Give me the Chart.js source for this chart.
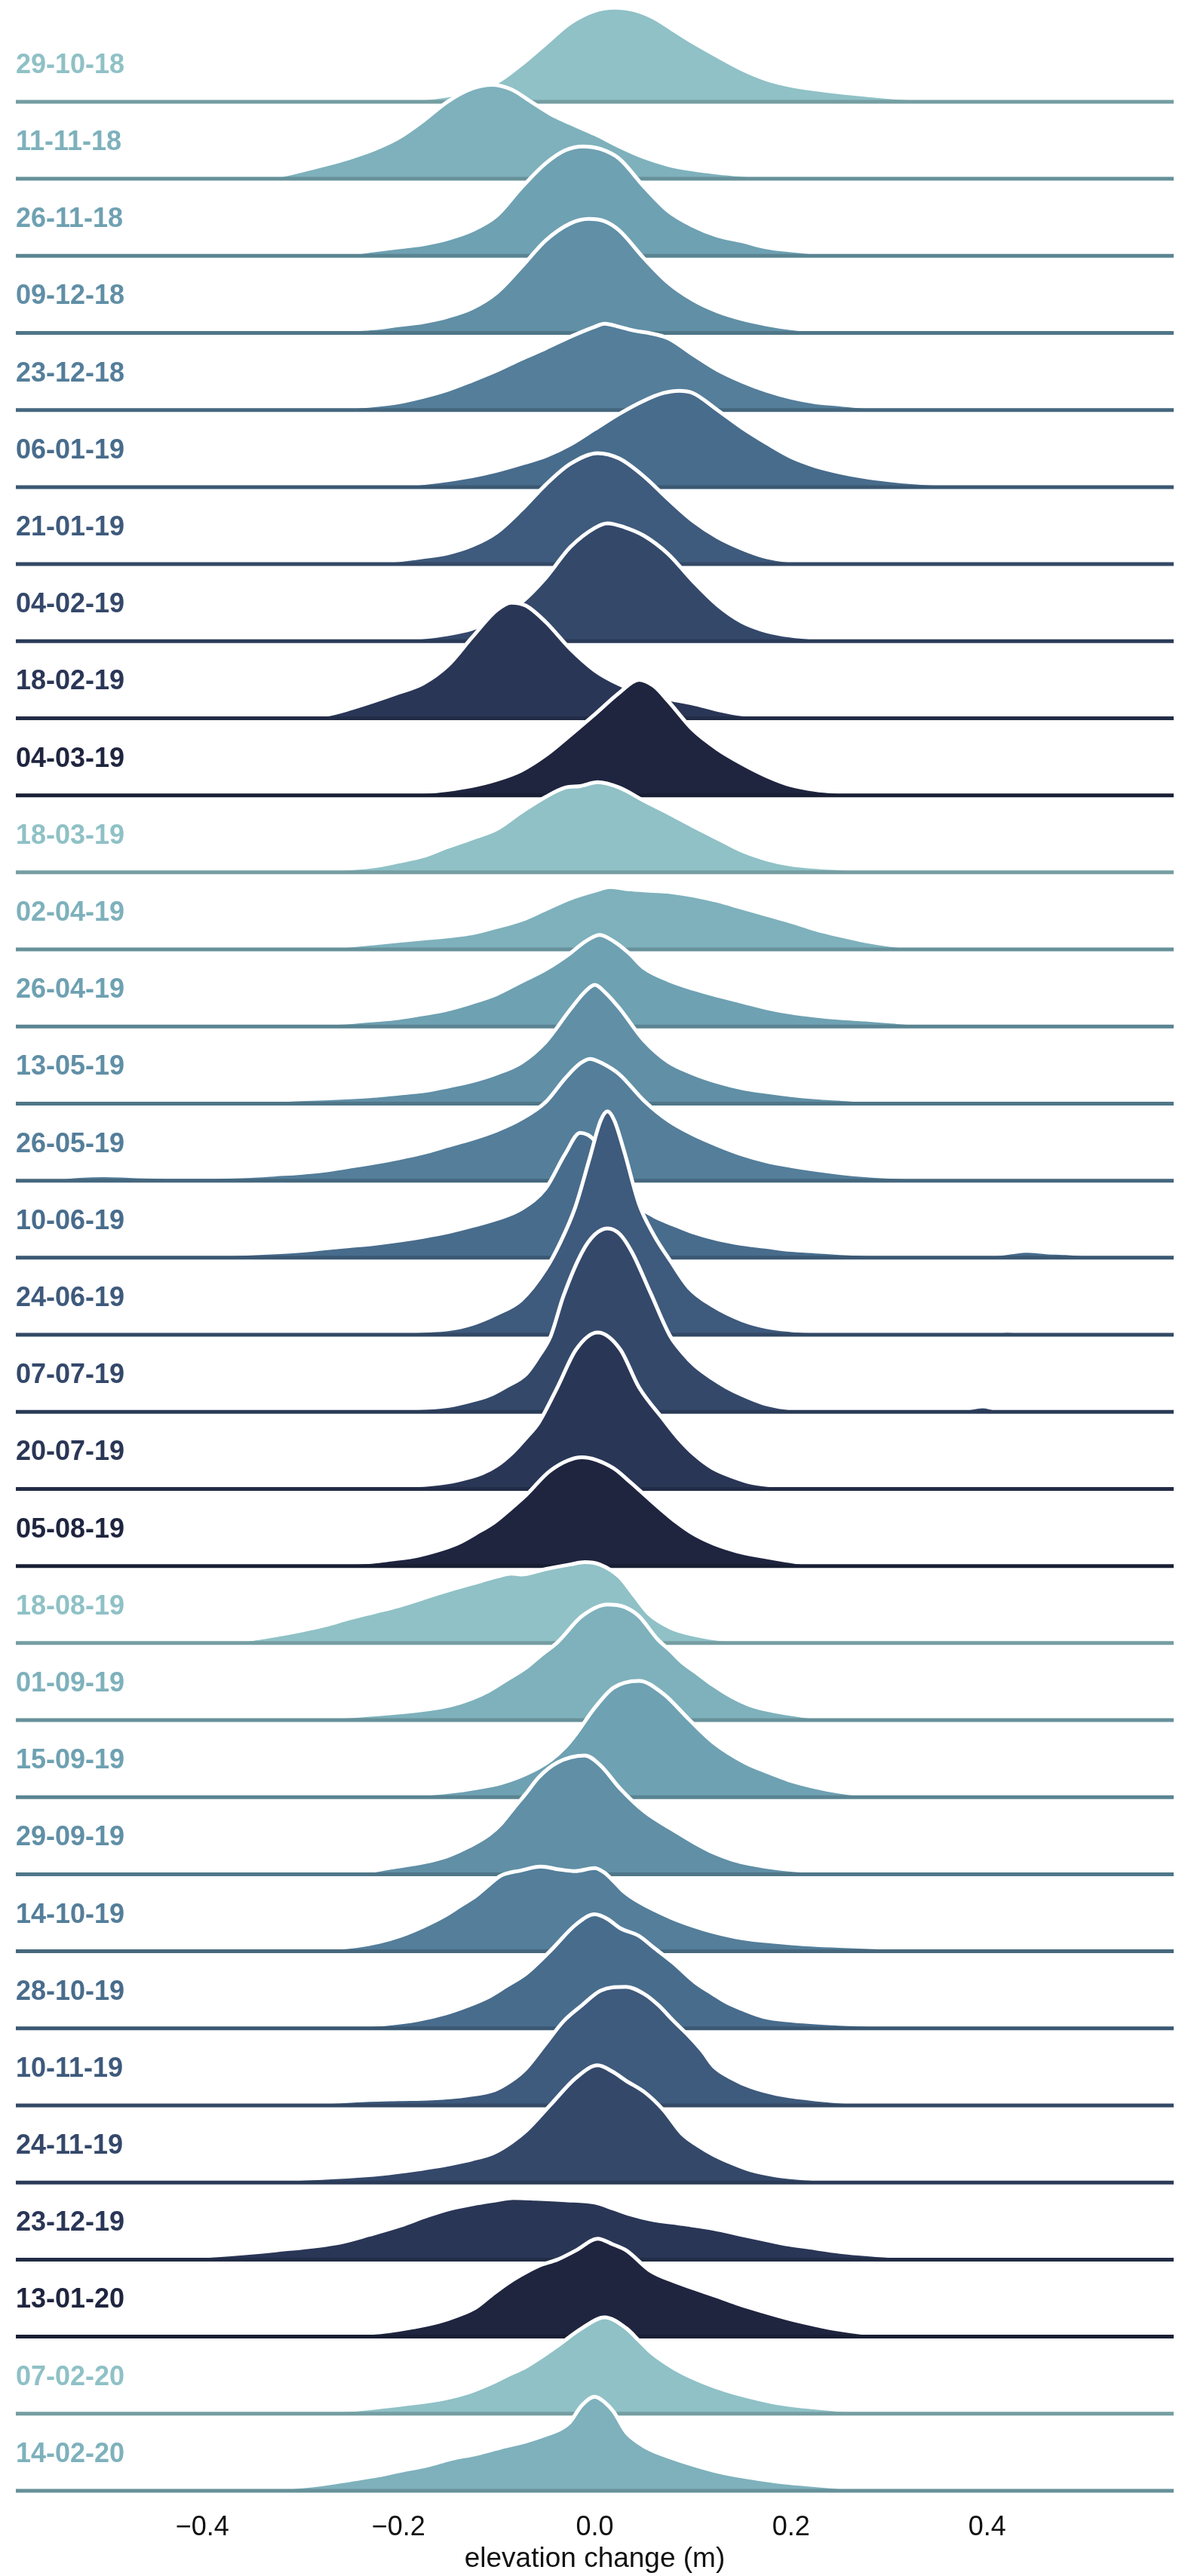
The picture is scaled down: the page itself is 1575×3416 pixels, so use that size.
<!DOCTYPE html>
<html><head><meta charset="utf-8">
<script src="https://cdn.jsdelivr.net/npm/chart.js@4.4.1/dist/chart.umd.min.js"></script>
<style>html,body{margin:0;padding:0;background:#fff;}canvas{display:block;}</style>
</head><body>
<canvas id="c" width="1575" height="3416" style="width:1575px;height:3416px"></canvas>
<script>
// ---------- data ----------
const dateLabels = ["29-10-18","11-11-18","26-11-18","09-12-18","23-12-18","06-01-19","21-01-19","04-02-19","18-02-19","04-03-19",
  "18-03-19","02-04-19","26-04-19","13-05-19","26-05-19","10-06-19","24-06-19","07-07-19","20-07-19","05-08-19",
  "18-08-19","01-09-19","15-09-19","29-09-19","14-10-19","28-10-19","10-11-19","24-11-19","23-12-19","13-01-20",
  "07-02-20","14-02-20"];
const xTicks = [-0.4, -0.2, 0.0, 0.2, 0.4];
const xAxisTitle = "elevation change (m)";
// density per date: [elevation change (m), density height (in ridge-row units)]
const densityRows = [
 [[-0.26,0],[-0.225,0.01],[-0.2,0.02],[-0.175,0.04],[-0.15,0.08],[-0.125,0.14],[-0.1,0.25],[-0.075,0.48],[-0.05,0.75],[-0.025,1.02],[0,1.18],[0.02,1.22],[0.04,1.19],[0.06,1.09],[0.08,0.93],[0.1,0.77],[0.125,0.59],[0.15,0.42],[0.175,0.29],[0.2,0.21],[0.225,0.16],[0.25,0.12],[0.275,0.09],[0.3,0.06],[0.325,0.04],[0.35,0.025],[0.4,0.01],[0.45,0]],
 [[-0.36,0],[-0.325,0.03],[-0.3,0.1],[-0.275,0.18],[-0.25,0.27],[-0.225,0.38],[-0.2,0.53],[-0.175,0.75],[-0.15,1.0],[-0.125,1.17],[-0.105,1.22],[-0.085,1.16],[-0.065,1.0],[-0.045,0.84],[-0.025,0.72],[0,0.58],[0.025,0.42],[0.05,0.28],[0.075,0.18],[0.1,0.12],[0.125,0.08],[0.15,0.05],[0.175,0.025],[0.2,0.01],[0.23,0]],
 [[-0.31,0],[-0.275,0.01],[-0.25,0.03],[-0.225,0.07],[-0.2,0.11],[-0.175,0.15],[-0.15,0.22],[-0.125,0.33],[-0.1,0.52],[-0.075,0.88],[-0.05,1.2],[-0.03,1.37],[-0.012,1.42],[0.005,1.39],[0.025,1.26],[0.05,0.9],[0.075,0.58],[0.1,0.39],[0.125,0.26],[0.15,0.19],[0.175,0.11],[0.2,0.07],[0.225,0.04],[0.25,0.03],[0.275,0.02],[0.3,0.01],[0.34,0]],
 [[-0.33,0],[-0.3,0.01],[-0.275,0.02],[-0.25,0.04],[-0.225,0.06],[-0.2,0.1],[-0.175,0.14],[-0.15,0.21],[-0.125,0.32],[-0.1,0.52],[-0.075,0.85],[-0.05,1.2],[-0.025,1.42],[-0.006,1.48],[0.01,1.45],[0.025,1.33],[0.05,0.97],[0.075,0.65],[0.1,0.43],[0.125,0.28],[0.15,0.18],[0.175,0.11],[0.2,0.06],[0.225,0.03],[0.25,0.01],[0.28,0]],
 [[-0.33,0],[-0.3,0.01],[-0.275,0.02],[-0.25,0.035],[-0.225,0.06],[-0.2,0.1],[-0.175,0.17],[-0.15,0.26],[-0.125,0.38],[-0.1,0.51],[-0.075,0.66],[-0.05,0.8],[-0.025,0.95],[0,1.08],[0.01,1.12],[0.025,1.08],[0.04,1.03],[0.055,1.0],[0.075,0.93],[0.1,0.72],[0.125,0.52],[0.15,0.37],[0.175,0.25],[0.2,0.16],[0.225,0.1],[0.25,0.07],[0.275,0.04],[0.3,0.02],[0.325,0.01],[0.36,0]],
 [[-0.23,0],[-0.2,0.02],[-0.175,0.05],[-0.15,0.09],[-0.125,0.14],[-0.1,0.21],[-0.075,0.3],[-0.05,0.4],[-0.025,0.55],[0,0.75],[0.025,0.95],[0.05,1.12],[0.07,1.22],[0.086,1.25],[0.1,1.22],[0.125,1.0],[0.15,0.77],[0.175,0.57],[0.2,0.39],[0.225,0.27],[0.25,0.19],[0.275,0.13],[0.3,0.09],[0.325,0.06],[0.35,0.04],[0.375,0.02],[0.4,0.01],[0.43,0]],
 [[-0.3,0],[-0.275,0.01],[-0.25,0.02],[-0.225,0.03],[-0.2,0.05],[-0.175,0.09],[-0.15,0.14],[-0.125,0.24],[-0.1,0.41],[-0.075,0.7],[-0.05,1.03],[-0.025,1.3],[0.003,1.44],[0.025,1.37],[0.05,1.14],[0.075,0.84],[0.1,0.56],[0.125,0.35],[0.15,0.2],[0.175,0.09],[0.2,0.04],[0.225,0.02],[0.25,0.01],[0.3,0]],
 [[-0.28,0],[-0.25,0.01],[-0.225,0.02],[-0.2,0.03],[-0.175,0.05],[-0.15,0.09],[-0.125,0.16],[-0.1,0.3],[-0.075,0.5],[-0.05,0.82],[-0.025,1.22],[0,1.47],[0.013,1.53],[0.03,1.48],[0.05,1.37],[0.075,1.13],[0.1,0.78],[0.125,0.47],[0.15,0.25],[0.175,0.13],[0.2,0.07],[0.225,0.04],[0.25,0.02],[0.275,0.01],[0.31,0]],
 [[-0.33,0],[-0.3,0.01],[-0.275,0.04],[-0.25,0.12],[-0.225,0.22],[-0.2,0.33],[-0.175,0.45],[-0.15,0.68],[-0.125,1.05],[-0.1,1.4],[-0.085,1.5],[-0.07,1.46],[-0.05,1.25],[-0.025,0.9],[0,0.62],[0.025,0.44],[0.05,0.32],[0.075,0.25],[0.1,0.19],[0.125,0.11],[0.15,0.05],[0.175,0.03],[0.2,0.015],[0.24,0]],
 [[-0.26,0],[-0.225,0.01],[-0.2,0.025],[-0.175,0.04],[-0.15,0.07],[-0.125,0.12],[-0.1,0.2],[-0.075,0.32],[-0.05,0.52],[-0.025,0.78],[0,1.05],[0.025,1.33],[0.045,1.5],[0.06,1.42],[0.075,1.22],[0.1,0.85],[0.125,0.6],[0.15,0.41],[0.175,0.25],[0.2,0.13],[0.225,0.07],[0.25,0.04],[0.275,0.02],[0.3,0.01],[0.33,0]],
 [[-0.33,0],[-0.3,0.01],[-0.275,0.025],[-0.25,0.05],[-0.225,0.08],[-0.2,0.14],[-0.175,0.21],[-0.15,0.33],[-0.125,0.44],[-0.1,0.56],[-0.075,0.78],[-0.05,0.98],[-0.03,1.1],[-0.015,1.12],[0.003,1.17],[0.025,1.1],[0.05,0.93],[0.075,0.77],[0.1,0.6],[0.125,0.44],[0.15,0.28],[0.175,0.17],[0.2,0.1],[0.225,0.07],[0.25,0.05],[0.275,0.03],[0.3,0.015],[0.325,0.005],[0.35,0]],
 [[-0.32,0],[-0.3,0.005],[-0.275,0.02],[-0.25,0.05],[-0.225,0.08],[-0.2,0.11],[-0.175,0.14],[-0.15,0.17],[-0.125,0.21],[-0.1,0.29],[-0.075,0.38],[-0.05,0.52],[-0.025,0.66],[0,0.76],[0.016,0.81],[0.035,0.78],[0.06,0.76],[0.08,0.74],[0.1,0.7],[0.125,0.63],[0.15,0.54],[0.175,0.45],[0.2,0.36],[0.225,0.26],[0.25,0.18],[0.275,0.11],[0.3,0.06],[0.325,0.03],[0.35,0.015],[0.375,0.005],[0.4,0]],
 [[-0.4,0],[-0.375,0.005],[-0.35,0.01],[-0.325,0.015],[-0.3,0.025],[-0.275,0.04],[-0.25,0.055],[-0.225,0.08],[-0.2,0.11],[-0.175,0.16],[-0.15,0.22],[-0.125,0.31],[-0.1,0.42],[-0.075,0.58],[-0.05,0.74],[-0.025,0.95],[-0.01,1.1],[0.005,1.19],[0.02,1.1],[0.035,0.95],[0.05,0.76],[0.075,0.6],[0.1,0.49],[0.125,0.4],[0.15,0.32],[0.175,0.24],[0.2,0.18],[0.225,0.14],[0.25,0.11],[0.275,0.09],[0.3,0.065],[0.325,0.04],[0.35,0.025],[0.375,0.015],[0.4,0.01],[0.425,0.005],[0.45,0]],
 [[-0.5,0],[-0.475,0.005],[-0.45,0.01],[-0.425,0.015],[-0.4,0.02],[-0.375,0.025],[-0.35,0.03],[-0.325,0.04],[-0.3,0.055],[-0.275,0.065],[-0.25,0.08],[-0.225,0.1],[-0.2,0.13],[-0.175,0.16],[-0.15,0.22],[-0.125,0.29],[-0.1,0.39],[-0.075,0.53],[-0.05,0.8],[-0.025,1.22],[-0.01,1.45],[0,1.54],[0.01,1.45],[0.025,1.24],[0.05,0.82],[0.075,0.54],[0.1,0.39],[0.125,0.28],[0.15,0.2],[0.175,0.15],[0.2,0.11],[0.225,0.08],[0.25,0.06],[0.275,0.04],[0.3,0.03],[0.325,0.02],[0.35,0.015],[0.375,0.01],[0.4,0.005],[0.43,0]],
 [[-0.6,0],[-0.575,0.01],[-0.55,0.03],[-0.525,0.06],[-0.5,0.07],[-0.475,0.06],[-0.45,0.05],[-0.425,0.045],[-0.4,0.045],[-0.375,0.05],[-0.35,0.06],[-0.325,0.08],[-0.3,0.1],[-0.275,0.13],[-0.25,0.18],[-0.225,0.23],[-0.2,0.29],[-0.175,0.36],[-0.15,0.45],[-0.125,0.54],[-0.1,0.65],[-0.075,0.8],[-0.05,1.02],[-0.03,1.33],[-0.015,1.52],[-0.005,1.58],[0.008,1.52],[0.025,1.38],[0.05,1.04],[0.075,0.78],[0.1,0.6],[0.125,0.46],[0.15,0.34],[0.175,0.25],[0.2,0.19],[0.225,0.14],[0.25,0.1],[0.275,0.07],[0.3,0.05],[0.325,0.035],[0.35,0.025],[0.375,0.02],[0.4,0.015],[0.45,0.01],[0.5,0]],
 [[-0.5,0],[-0.475,0.005],[-0.45,0.01],[-0.425,0.02],[-0.4,0.03],[-0.375,0.04],[-0.35,0.055],[-0.325,0.07],[-0.3,0.09],[-0.275,0.12],[-0.25,0.15],[-0.225,0.18],[-0.2,0.22],[-0.175,0.27],[-0.15,0.33],[-0.125,0.41],[-0.1,0.5],[-0.075,0.63],[-0.05,0.9],[-0.03,1.35],[-0.015,1.62],[0,1.52],[0.02,1.1],[0.04,0.72],[0.06,0.54],[0.08,0.43],[0.1,0.33],[0.125,0.24],[0.15,0.18],[0.175,0.14],[0.2,0.1],[0.225,0.08],[0.25,0.06],[0.275,0.045],[0.3,0.035],[0.325,0.025],[0.35,0.02],[0.375,0.02],[0.4,0.03],[0.425,0.07],[0.44,0.09],[0.46,0.07],[0.48,0.06],[0.5,0.04],[0.52,0.01],[0.54,0]],
 [[-0.45,0],[-0.4,0.005],[-0.35,0.01],[-0.3,0.015],[-0.25,0.02],[-0.2,0.035],[-0.175,0.05],[-0.15,0.07],[-0.125,0.14],[-0.1,0.27],[-0.075,0.45],[-0.05,0.85],[-0.035,1.2],[-0.02,1.65],[-0.005,2.3],[0.006,2.78],[0.013,2.9],[0.02,2.78],[0.03,2.38],[0.045,1.7],[0.06,1.3],[0.077,0.96],[0.096,0.61],[0.121,0.37],[0.15,0.19],[0.175,0.1],[0.2,0.06],[0.225,0.04],[0.25,0.025],[0.3,0.015],[0.35,0.01],[0.4,0.01],[0.42,0.05],[0.44,0.03],[0.47,0.035],[0.5,0.01],[0.52,0]],
 [[-0.4,0],[-0.3,0.01],[-0.23,0.02],[-0.19,0.04],[-0.153,0.07],[-0.13,0.13],[-0.108,0.21],[-0.09,0.33],[-0.07,0.49],[-0.057,0.72],[-0.045,0.98],[-0.032,1.5],[-0.013,2.07],[0,2.3],[0.013,2.38],[0.026,2.3],[0.038,2.07],[0.057,1.54],[0.077,0.98],[0.09,0.76],[0.102,0.6],[0.12,0.43],[0.134,0.32],[0.15,0.22],[0.172,0.11],[0.195,0.05],[0.217,0.02],[0.26,0.01],[0.3,0.005],[0.36,0.005],[0.38,0.04],[0.395,0.07],[0.41,0.04],[0.44,0.04],[0.46,0.01],[0.48,0]],
 [[-0.5,0],[-0.35,0.01],[-0.23,0.02],[-0.19,0.04],[-0.166,0.06],[-0.14,0.11],[-0.115,0.2],[-0.1,0.3],[-0.083,0.48],[-0.07,0.66],[-0.057,0.86],[-0.038,1.32],[-0.019,1.81],[0.003,2.03],[0.026,1.81],[0.045,1.32],[0.07,0.9],[0.085,0.66],[0.102,0.44],[0.12,0.27],[0.14,0.16],[0.16,0.08],[0.185,0.04],[0.22,0.02],[0.3,0.01],[0.4,0.008],[0.5,0.005],[0.55,0]],
 [[-0.55,0],[-0.5,0.005],[-0.45,0.008],[-0.39,0.01],[-0.3,0.02],[-0.26,0.03],[-0.23,0.05],[-0.21,0.08],[-0.185,0.12],[-0.16,0.2],[-0.14,0.29],[-0.12,0.43],[-0.102,0.57],[-0.085,0.75],[-0.07,0.92],[-0.045,1.24],[-0.013,1.41],[0.019,1.27],[0.035,1.1],[0.051,0.92],[0.067,0.74],[0.083,0.57],[0.1,0.42],[0.121,0.29],[0.145,0.19],[0.172,0.12],[0.195,0.07],[0.217,0.03],[0.25,0.01],[0.3,0]],
 [[-0.44,0],[-0.4,0.01],[-0.375,0.02],[-0.35,0.05],[-0.325,0.1],[-0.3,0.16],[-0.275,0.23],[-0.25,0.32],[-0.225,0.4],[-0.2,0.48],[-0.175,0.58],[-0.15,0.68],[-0.125,0.77],[-0.1,0.86],[-0.085,0.9],[-0.075,0.89],[-0.05,0.96],[-0.025,1.02],[-0.01,1.05],[0.005,1.02],[0.025,0.86],[0.04,0.62],[0.055,0.38],[0.077,0.2],[0.1,0.11],[0.125,0.055],[0.15,0.03],[0.2,0.01],[0.25,0]],
 [[-0.3,0],[-0.26,0.04],[-0.225,0.07],[-0.198,0.1],[-0.17,0.14],[-0.147,0.19],[-0.125,0.28],[-0.108,0.38],[-0.09,0.52],[-0.07,0.68],[-0.055,0.84],[-0.038,1.01],[-0.013,1.35],[0.013,1.5],[0.03,1.47],[0.045,1.35],[0.064,1.05],[0.077,0.9],[0.089,0.75],[0.105,0.6],[0.121,0.45],[0.14,0.3],[0.159,0.19],[0.185,0.11],[0.21,0.06],[0.23,0.03],[0.25,0.01],[0.28,0]],
 [[-0.25,0],[-0.21,0.015],[-0.175,0.04],[-0.147,0.07],[-0.12,0.12],[-0.096,0.18],[-0.07,0.3],[-0.045,0.48],[-0.03,0.65],[-0.019,0.82],[0,1.16],[0.019,1.42],[0.045,1.51],[0.07,1.34],[0.096,1.01],[0.121,0.71],[0.153,0.45],[0.175,0.33],[0.198,0.22],[0.225,0.13],[0.249,0.07],[0.27,0.035],[0.287,0.015],[0.32,0]],
 [[-0.32,0],[-0.293,0.01],[-0.26,0.025],[-0.23,0.04],[-0.21,0.08],[-0.185,0.13],[-0.165,0.18],[-0.147,0.25],[-0.128,0.36],[-0.108,0.51],[-0.095,0.66],[-0.083,0.85],[-0.07,1.05],[-0.057,1.26],[-0.038,1.45],[-0.01,1.54],[0.006,1.41],[0.026,1.11],[0.051,0.81],[0.083,0.55],[0.1,0.42],[0.121,0.28],[0.14,0.19],[0.159,0.13],[0.19,0.07],[0.217,0.04],[0.25,0.02],[0.28,0.01],[0.32,0]],
 [[-0.33,0],[-0.293,0.02],[-0.265,0.04],[-0.242,0.07],[-0.22,0.12],[-0.198,0.2],[-0.175,0.32],[-0.153,0.46],[-0.137,0.59],[-0.121,0.72],[-0.108,0.86],[-0.096,0.98],[-0.075,1.05],[-0.055,1.1],[-0.035,1.06],[-0.02,1.04],[0,1.08],[0.01,1.02],[0.02,0.9],[0.03,0.77],[0.045,0.64],[0.077,0.44],[0.1,0.33],[0.121,0.25],[0.15,0.17],[0.185,0.12],[0.215,0.09],[0.249,0.07],[0.3,0.045],[0.344,0.03],[0.4,0.015],[0.44,0.01],[0.5,0]],
 [[-0.3,0],[-0.26,0.02],[-0.21,0.06],[-0.18,0.11],[-0.153,0.19],[-0.13,0.29],[-0.108,0.41],[-0.09,0.55],[-0.07,0.71],[-0.045,1.01],[-0.019,1.35],[0,1.48],[0.013,1.42],[0.026,1.3],[0.045,1.2],[0.06,1.05],[0.08,0.85],[0.102,0.6],[0.12,0.45],[0.134,0.34],[0.15,0.25],[0.172,0.15],[0.2,0.1],[0.249,0.06],[0.3,0.035],[0.344,0.02],[0.4,0.01],[0.45,0]],
 [[-0.33,0],[-0.293,0.03],[-0.26,0.05],[-0.23,0.07],[-0.2,0.08],[-0.166,0.09],[-0.13,0.13],[-0.102,0.2],[-0.085,0.32],[-0.07,0.48],[-0.05,0.8],[-0.032,1.09],[-0.013,1.3],[0.006,1.49],[0.032,1.54],[0.05,1.45],[0.065,1.3],[0.08,1.1],[0.096,0.9],[0.11,0.7],[0.121,0.51],[0.14,0.35],[0.159,0.24],[0.185,0.15],[0.217,0.09],[0.25,0.05],[0.28,0.03],[0.33,0.01],[0.37,0]],
 [[-0.45,0],[-0.39,0.015],[-0.34,0.03],[-0.293,0.05],[-0.242,0.085],[-0.21,0.12],[-0.185,0.16],[-0.165,0.2],[-0.147,0.24],[-0.125,0.3],[-0.102,0.39],[-0.085,0.52],[-0.07,0.67],[-0.045,1.01],[-0.019,1.36],[0.003,1.52],[0.018,1.44],[0.032,1.32],[0.051,1.17],[0.07,0.94],[0.089,0.63],[0.105,0.48],[0.121,0.36],[0.14,0.25],[0.159,0.16],[0.185,0.09],[0.217,0.05],[0.25,0.03],[0.28,0.015],[0.32,0]],
 [[-0.5,0],[-0.45,0.01],[-0.39,0.05],[-0.325,0.12],[-0.26,0.22],[-0.23,0.32],[-0.198,0.44],[-0.17,0.57],[-0.147,0.66],[-0.12,0.73],[-0.1,0.77],[-0.083,0.8],[-0.06,0.79],[-0.03,0.77],[0,0.74],[0.019,0.66],[0.035,0.59],[0.057,0.52],[0.09,0.46],[0.121,0.4],[0.15,0.32],[0.172,0.26],[0.195,0.2],[0.217,0.16],[0.25,0.1],[0.28,0.065],[0.31,0.04],[0.344,0.02],[0.4,0.008],[0.45,0]],
 [[-0.3,0],[-0.26,0.015],[-0.235,0.04],[-0.21,0.07],[-0.185,0.12],[-0.159,0.19],[-0.14,0.27],[-0.121,0.38],[-0.105,0.54],[-0.089,0.69],[-0.075,0.8],[-0.057,0.92],[-0.038,1.0],[-0.019,1.12],[0.003,1.27],[0.018,1.2],[0.032,1.12],[0.057,0.85],[0.08,0.72],[0.102,0.62],[0.125,0.52],[0.147,0.42],[0.17,0.33],[0.198,0.23],[0.225,0.15],[0.249,0.09],[0.275,0.045],[0.3,0.02],[0.34,0]],
 [[-0.34,0],[-0.293,0.02],[-0.26,0.04],[-0.23,0.07],[-0.195,0.12],[-0.159,0.18],[-0.13,0.27],[-0.108,0.38],[-0.09,0.49],[-0.07,0.61],[-0.055,0.73],[-0.038,0.88],[-0.013,1.11],[0.01,1.25],[0.032,1.11],[0.045,0.95],[0.057,0.8],[0.072,0.66],[0.089,0.53],[0.11,0.41],[0.134,0.3],[0.16,0.21],[0.185,0.14],[0.215,0.09],[0.249,0.05],[0.28,0.025],[0.31,0.01],[0.35,0]],
 [[-0.38,0],[-0.357,0.01],[-0.335,0.02],[-0.312,0.04],[-0.28,0.08],[-0.249,0.14],[-0.22,0.2],[-0.198,0.26],[-0.17,0.33],[-0.147,0.41],[-0.12,0.48],[-0.096,0.56],[-0.07,0.64],[-0.051,0.72],[-0.035,0.8],[-0.026,0.88],[-0.013,1.11],[0,1.22],[0.01,1.15],[0.019,1.03],[0.032,0.76],[0.045,0.62],[0.057,0.53],[0.08,0.42],[0.102,0.33],[0.125,0.25],[0.153,0.18],[0.185,0.12],[0.217,0.08],[0.25,0.045],[0.28,0.02],[0.32,0.005],[0.35,0]]
];

// ---------- styling ----------
const X_MIN = -0.59, X_MAX = 0.59;
const Y_MAX = 32.32;          // top of the plotting range in row units
const LABEL_RISE = 0.47;      // date label sits this far above its baseline
const FONT = "'Liberation Sans', Arial, Helvetica, sans-serif";

function cubehelixPalette(n, start, rot, hue, light, dark, shade) {
  const out = [];
  for (let k = 0; k < n; k++) {
    const x = light + (dark - light) * k / (n - 1);
    const a = hue * x * (1 - x) / 2;
    const phi = 2 * Math.PI * (start / 3 + rot * x);
    const c = Math.cos(phi), s = Math.sin(phi);
    const ch = [x + a * (-0.14861 * c + 1.78277 * s),
                x + a * (-0.29227 * c - 0.90649 * s),
                x + a * (1.97294 * c)];
    out.push('rgb(' + ch.map(v => Math.round(Math.max(0, Math.min(1, v)) * 255 * shade)).join(',') + ')');
  }
  return out;
}
const palette = cubehelixPalette(10, 0, -0.25, 0.8, 0.7, 0.15, 1);
const linePalette = cubehelixPalette(10, 0, -0.25, 0.8, 0.7, 0.15, 0.82);
const N = dateLabels.length;
const rowColor = i => palette[i % palette.length];
const rowLineColor = i => linePalette[i % linePalette.length];
const baseOf = i => N - 1 - i;

const datasets = [];
densityRows.forEach((pts, i) => {
  const b = baseOf(i);
  datasets.push({
    label: dateLabels[i],
    data: pts.map(p => ({x: p[0], y: b + p[1]})),
    fill: {value: b},
    backgroundColor: rowColor(i),
    borderColor: '#ffffff',
    borderWidth: 5,
    borderJoinStyle: 'round',
    pointRadius: 0,
    cubicInterpolationMode: 'monotone',
    clip: false,
    order: 2 * (N - i)
  });
  datasets.push({
    label: dateLabels[i] + ' baseline',
    data: [{x: X_MIN, y: b}, {x: X_MAX, y: b}],
    borderColor: rowLineColor(i),
    borderWidth: 5,
    pointRadius: 0,
    fill: false,
    clip: false,
    order: 2 * (N - i) - 1
  });
});

new Chart(document.getElementById('c'), {
  type: 'line',
  data: {datasets},
  options: {
    responsive: false,
    animation: false,
    devicePixelRatio: 1,
    layout: {padding: {left: 21, right: 19, top: 0, bottom: 0}},
    plugins: {legend: {display: false}, tooltip: {enabled: false}, filler: {drawTime: 'beforeDatasetDraw'}},
    scales: {
      x: {
        type: 'linear', min: X_MIN, max: X_MAX,
        grid: {display: false, drawTicks: false},
        border: {display: false},
        afterBuildTicks: s => { s.ticks = xTicks.map(v => ({value: v})); },
        afterFit: s => { s.height = 113; s.paddingLeft = 0; s.paddingRight = 0; },
        ticks: {
          padding: 27,
          color: '#111111',
          font: {family: FONT, size: 36},
          callback: v => (v < 0 ? '\u2212' : '') + Math.abs(v).toFixed(1)
        },
        title: {display: true, text: xAxisTitle, color: '#111111', font: {family: FONT, size: 37}, padding: {top: 0, bottom: 0}}
      },
      y: {
        type: 'linear', min: 0, max: Y_MAX,
        grid: {display: false, drawTicks: false},
        border: {display: false},
        afterBuildTicks: s => { s.ticks = dateLabels.map((_, i) => ({value: baseOf(i) + LABEL_RISE})); },
        afterFit: s => { s.paddingTop = 0; s.paddingBottom = 0; },
        ticks: {
          mirror: true, padding: 0, autoSkip: false,
          font: {family: FONT, size: 36, weight: 'bold'},
          color: ctx => rowColor(ctx.index),
          callback: (v, i) => dateLabels[i]
        }
      }
    }
  }
});
</script>
</body></html>
